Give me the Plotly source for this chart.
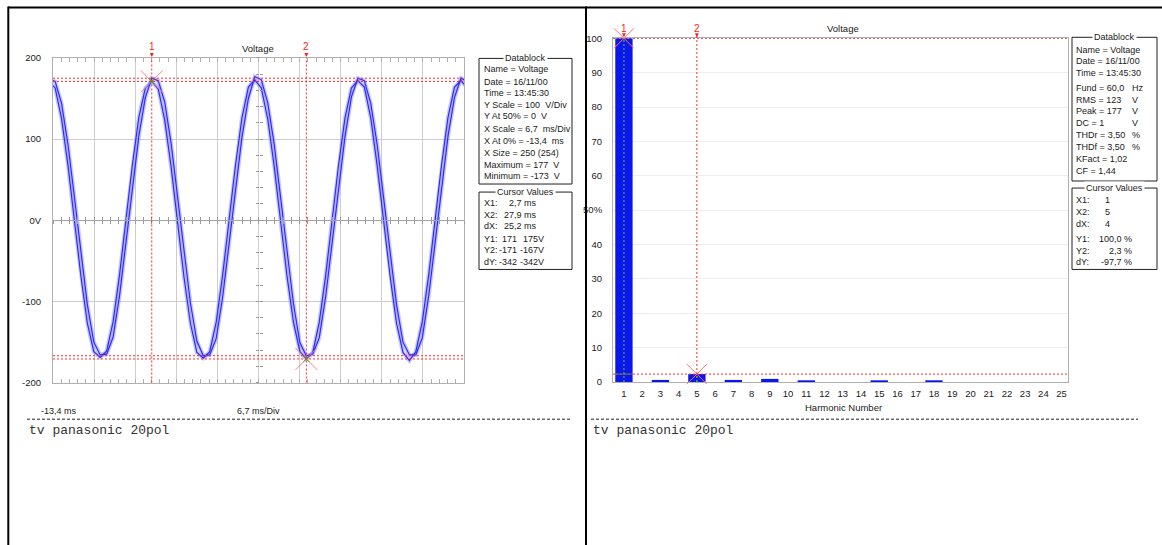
import plotly.graph_objects as go

W, H = 1162, 545

# ---------------- scope record: Voltage (two stored traces) ----------------
T_START = -14.1   # ms, time of first stored sample
T_STEP = 1.05     # ms between stored samples
VOLT_A = [171, 163, 125, 67, -1, -69, -127, -162, -169, -161, -125, -67, 1, 69, 127, 163,
          171, 162, 124, 66, -2, -70, -127, -163, -170, -162, -126, -68, 0, 68, 126, 164,
          173, 163, 125, 67, -1, -69, -126, -162, -171, -163, -126, -68, 0, 68, 126, 163,
          172, 164, 126, 67, -1, -69, -127, -163, -173, -162, -125, -67, 1, 69, 127, 164,
          172, 163]
VOLT_B = [174, 171, 144, 93, 28, -41, -104, -150, -166, -165, -144, -93, -28, 41, 104, 151,
          175, 172, 146, 95, 30, -39, -102, -149, -167, -166, -146, -95, -30, 39, 102, 150,
          177, 173, 145, 94, 29, -40, -103, -151, -167, -165, -145, -94, -29, 40, 103, 152,
          175, 172, 144, 93, 28, -41, -104, -150, -166, -166, -145, -93, -28, 41, 104, 151,
          175, 171]

X_AT_0 = -13.4     # ms at left edge
X_SCALE = 6.7      # ms / div
X_DIVS = 10
Y_TICKS = [-200, -100, 0, 100, 200]
Y_TICK_TEXT = ["-200", "-100", "0V", "100", "200"]

CURSOR_T = [2.7, 27.9]
CURSOR_V_A = [171, -171]
CURSOR_V_B = [175, -167]

# ---------------- harmonic spectrum ----------------
HARMONIC = list(range(1, 26))
HARM_PCT = [100.0, 0.0, 0.6, 0.0, 2.3, 0.0, 0.6, 0.0, 0.9, 0.0, 0.3, 0.0, 0.0,
            0.0, 0.3, 0.0, 0.0, 0.3, 0.0, 0.0, 0.0, 0.0, 0.0, 0.0, 0.0]
PCT_TICKS = [0, 10, 20, 30, 40, 50, 60, 70, 80, 90, 100]
PCT_TICK_TEXT = ["0", "10", "20", "30", "40", "50%", "60", "70", "80", "90", "100"]
CURSOR_H = [1, 5]
CURSOR_PCT = [100.0, 2.3]

# ---------------- text blocks ----------------
SCOPE_DB_LABELS = ["Name", "Date", "Time", "Y Scale", "Y At 50%", "X Scale",
                   "X At 0%", "X Size", "Maximum", "Minimum"]
SCOPE_DB_VALUES = ["Voltage", "16/11/00", "13:45:30", "100", "0", "6,7",
                   "-13,4", "250 (254)", "177", "-173"]
SCOPE_DB_UNITS = ["", "", "", "V/Div", "V", "ms/Div", "ms", "", "V", "V"]
SCOPE_CUR_LABELS = ["X1:", "X2:", "dX:", "Y1:", "Y2:", "dY:"]
SCOPE_CUR_COL1 = ["2,7 ms", "27,9 ms", "25,2 ms", "171", "-171", "-342"]
SCOPE_CUR_COL2 = ["", "", "", "175V", "-167V", "-342V"]

HARM_DB_LABELS = ["Name", "Date", "Time", "Fund", "RMS", "Peak", "DC",
                  "THDr", "THDf", "KFact", "CF"]
HARM_DB_VALUES = ["Voltage", "16/11/00", "13:45:30", "60,0", "123", "177", "1",
                  "3,50", "3,50", "1,02", "1,44"]
HARM_DB_UNITS = ["", "", "", "Hz", "V", "V", "V", "%", "%", "", ""]
HARM_CUR_LABELS = ["X1:", "X2:", "dX:", "Y1:", "Y2:", "dY:"]
HARM_CUR_VALUES = ["1", "5", "4", "100,0 %", "2,3 %", "-97,7 %"]

CAPTION = "tv panasonic 20pol"
SCOPE_TITLE = "Voltage"
HARM_TITLE = "Voltage"
HARM_XTITLE = "Harmonic Number"
SCOPE_XSTART = "-13,4 ms"
SCOPE_XDIV = "6,7 ms/Div"

# ---------------- styling ----------------
UI_FONT = "Liberation Sans, Arial, sans-serif"
MONO_FONT = "Liberation Mono, Courier New, monospace"
TXT = "#1a1a1a"
GRID = "#cdcdcd"
FRAME = "#b0b0b0"
CUR_RED = "#ff2a2a"
DARK_RED = "#b00000"
GREEN = "#10c010"
TRACE_BLUE = "#2d2df5"
HALO_BLUE = "rgba(150,150,255,0.55)"
BAR_BLUE = "#0a16ec"
DOT = "2px,2px"
NB = "\u00a0"

# vertical placement: page rows are laid out on a slightly taller sheet
V_SCALE, V_OFF = 0.975, 6.0


def fx(px):
    return px / W


def fy(py):
    return 1 - (py / V_SCALE - V_OFF) / H


# plot rectangles in page pixels
SC_L, SC_R, SC_T, SC_B = 53, 464, 57.5, 380.5
HM_L, HM_R, HM_T, HM_B = 613, 1068, 38, 380

fig = go.Figure()

# ---- waveform traces ----
t = [T_START + i * T_STEP for i in range(len(VOLT_A))]
for volts in (VOLT_A, VOLT_B):
    fig.add_trace(go.Scatter(x=t, y=volts, mode="lines", xaxis="x", yaxis="y",
                             line=dict(color=HALO_BLUE, width=4), hoverinfo="skip"))
for volts in (VOLT_A, VOLT_B):
    fig.add_trace(go.Scatter(x=t, y=volts, mode="lines", xaxis="x", yaxis="y",
                             line=dict(color=TRACE_BLUE, width=1.2), hoverinfo="skip"))

# cursor crossings on the waveform
fig.add_trace(go.Scatter(x=CURSOR_T, y=CURSOR_V_A, mode="markers", xaxis="x", yaxis="y",
                         marker=dict(symbol="x-thin", size=22,
                                     line=dict(width=1, color="#ff8080")),
                         hoverinfo="skip"))
fig.add_trace(go.Scatter(x=CURSOR_T, y=CURSOR_V_A, mode="markers", xaxis="x", yaxis="y",
                         marker=dict(symbol="x-thin", size=6,
                                     line=dict(width=1, color=GREEN)),
                         hoverinfo="skip"))

# invisible carriers for the centre crosshair axes
for xa, ya in (("x3", "y"), ("x4", "y"), ("x", "y3"), ("x", "y4")):
    fig.add_trace(go.Scatter(x=[None], y=[None], xaxis=xa, yaxis=ya,
                             hoverinfo="skip", showlegend=False))

# ---- harmonic bars ----
fig.add_trace(go.Bar(x=HARMONIC, y=HARM_PCT, xaxis="x2", yaxis="y2", width=0.95,
                     marker=dict(color=BAR_BLUE, line=dict(width=0)), hoverinfo="skip"))
fig.add_trace(go.Scatter(x=CURSOR_H, y=CURSOR_PCT, mode="markers", xaxis="x2", yaxis="y2",
                         marker=dict(symbol="x-thin", size=20,
                                     line=dict(width=1, color="#ff7070")),
                         cliponaxis=False, hoverinfo="skip"))

shapes = []
annotations = []

# ---- page table rules ----
shapes.append(dict(type="line", xref="paper", yref="paper", x0=fx(8), x1=1.0,
                   y0=fy(7.3), y1=fy(7.3), line=dict(color="black", width=2)))
for xr in (8.3, 586):
    shapes.append(dict(type="line", xref="paper", yref="paper", x0=fx(xr), x1=fx(xr),
                       y0=fy(6.3), y1=fy(560), line=dict(color="black", width=2)))

# ---- separators and captions ----
for x0, x1 in ((27, 570), (591, 1138)):
    shapes.append(dict(type="line", xref="paper", yref="paper", x0=fx(x0), x1=fx(x1),
                       y0=fy(417), y1=fy(417),
                       line=dict(color="#202020", width=1, dash="3px,2px")))
    annotations.append(dict(text=CAPTION, xref="paper", yref="paper", x=fx(x0), y=fy(428),
                            xanchor="left", yanchor="middle", showarrow=False,
                            font=dict(family=MONO_FONT, size=13, color="#333333")))

# ---- scope cursors ----
for i, tc in enumerate(CURSOR_T):
    shapes.append(dict(type="line", xref="x", yref="y domain", x0=tc, x1=tc, y0=0, y1=1,
                       line=dict(color=CUR_RED, width=1, dash=DOT), layer="above"))
    annotations.append(dict(text=str(i + 1), xref="x", yref="paper", x=tc, y=fy(SC_T - 1),
                            showarrow=True, arrowhead=2, arrowsize=0.8, arrowwidth=1,
                            arrowcolor="#ff2020", ax=0, ay=-10, standoff=0,
                            font=dict(family=UI_FONT, size=10, color="#ff2020")))
for v in CURSOR_V_A + CURSOR_V_B:
    shapes.append(dict(type="line", xref="x domain", yref="y", x0=0, x1=1, y0=v, y1=v,
                       line=dict(color=CUR_RED, width=1, dash=DOT), layer="above"))

# ---- harmonic cursors ----
shapes.append(dict(type="line", xref="x2 domain", yref="y2", x0=0, x1=1,
                   y0=CURSOR_PCT[0], y1=CURSOR_PCT[0],
                   line=dict(color=DARK_RED, width=1, dash=DOT), layer="above"))
shapes.append(dict(type="line", xref="x2 domain", yref="y2", x0=0, x1=1,
                   y0=CURSOR_PCT[1], y1=CURSOR_PCT[1],
                   line=dict(color=CUR_RED, width=1, dash=DOT), layer="above"))
shapes.append(dict(type="line", xref="x2", yref="y2 domain", x0=CURSOR_H[1], x1=CURSOR_H[1],
                   y0=0, y1=1.01, line=dict(color=CUR_RED, width=1, dash=DOT), layer="above"))
# the cursor lines show green where they cross the blue bars
shapes.append(dict(type="line", xref="x2", yref="y2", x0=CURSOR_H[0], x1=CURSOR_H[0],
                   y0=0, y1=CURSOR_PCT[0], line=dict(color="#30e030", width=1, dash="2px,2px"),
                   layer="above"))
shapes.append(dict(type="line", xref="x2", yref="y2", x0=CURSOR_H[0] - 0.47,
                   x1=CURSOR_H[0] + 0.47, y0=CURSOR_PCT[1], y1=CURSOR_PCT[1],
                   line=dict(color="#30e030", width=1, dash="2px,2px"), layer="above"))
shapes.append(dict(type="line", xref="x2", yref="y2", x0=CURSOR_H[1], x1=CURSOR_H[1],
                   y0=0, y1=CURSOR_PCT[1], line=dict(color="#30e030", width=1, dash="2px,2px"),
                   layer="above"))
for i, h in enumerate(CURSOR_H):
    annotations.append(dict(text=str(i + 1), xref="x2", yref="paper", x=h, y=fy(HM_T - 1),
                            showarrow=True, arrowhead=2, arrowsize=0.8, arrowwidth=1,
                            arrowcolor="#ff2020", ax=0, ay=-9, standoff=0,
                            font=dict(family=UI_FONT, size=10, color="#ff2020")))


# ---- titles and axis notes ----
def label(text, x, y, anchor="center", size=9, color=TXT, family=UI_FONT, bg=None):
    d = dict(text=text, xref="paper", yref="paper", x=fx(x), y=fy(y), xanchor=anchor,
             yanchor="middle", showarrow=False,
             font=dict(family=family, size=size, color=color))
    if bg:
        d.update(bgcolor=bg, borderpad=1)
    annotations.append(d)


label(SCOPE_TITLE, 258, 48, size=9.5)
label(HARM_TITLE, 843, 28, size=9.5)
label(HARM_XTITLE, 843, 405, size=9.5)
label(SCOPE_XSTART, 39, 409, anchor="left")
label(SCOPE_XDIV, 258, 409)


# ---- framed info boxes ----
def box(x0, x1, y0, y1, title):
    shapes.append(dict(type="rect", xref="paper", yref="paper", x0=fx(x0), x1=fx(x1),
                       y0=fy(y1), y1=fy(y0), line=dict(color="#202020", width=1)))
    label(title, (x0 + x1) / 2, y0, bg="white")


# scope datablock
SB_L, SB_R = 479, 572
box(SB_L, SB_R, 58, 183, "Datablock")
for y, lab, val, unit in zip([69, 81, 92, 104, 115, 128, 140, 152, 164, 175],
                             SCOPE_DB_LABELS, SCOPE_DB_VALUES, SCOPE_DB_UNITS):
    text = f"{lab} = {val}" + (NB * 2 + unit if unit else "")
    label(text, SB_L + 3, y, anchor="left")

box(SB_L, SB_R, 191, 268, "Cursor Values")
for y, lab, c1, c2 in zip([202, 214, 225, 238, 249, 261],
                          SCOPE_CUR_LABELS, SCOPE_CUR_COL1, SCOPE_CUR_COL2):
    label(lab, SB_L + 3, y, anchor="left")
    if c2:
        label(c1, SB_L + 40, y, anchor="right")
        label(c2, SB_L + 67, y, anchor="right")
    else:
        label(c1, SB_L + 60, y, anchor="right")

# harmonic datablock
HB_L, HB_R = 1072, 1157
box(HB_L, HB_R, 37, 180, "Datablock")
for y, lab, val, unit in zip([50, 61, 73, 87, 99, 110, 122, 134, 146, 158, 170],
                             HARM_DB_LABELS, HARM_DB_VALUES, HARM_DB_UNITS):
    label(f"{lab} = {val}", HB_L + 2, y, anchor="left")
    if unit:
        label(unit, HB_L + 58, y, anchor="left")

box(HB_L, HB_R, 187, 268, "Cursor Values")
for r, (y, lab, val) in enumerate(zip([199, 211, 223, 238, 250, 261],
                                      HARM_CUR_LABELS, HARM_CUR_VALUES)):
    label(lab, HB_L + 2, y, anchor="left")
    label(val, HB_L + (40 if r < 3 else 62), y, anchor="right")

# ---------------- axes ----------------
x_range = [X_AT_0, X_AT_0 + X_DIVS * X_SCALE]
tickfont = dict(family=UI_FONT, size=9.5, color=TXT)
mid_y = (fy(SC_T) + fy(SC_B)) / 2
mid_x = (fx(SC_L) + fx(SC_R)) / 2

common_center = dict(showticklabels=False, showgrid=False, zeroline=False,
                     tickcolor="#9a9a9a", ticklen=3)

fig.update_layout(
    width=W, height=H, margin=dict(l=0, r=0, t=0, b=0), autosize=False,
    paper_bgcolor="white", plot_bgcolor="white", showlegend=False,
    xaxis=dict(domain=[fx(SC_L), fx(SC_R)], range=x_range, anchor="y",
               tick0=X_AT_0, dtick=X_SCALE, showticklabels=False,
               showgrid=True, gridcolor=GRID, gridwidth=1, zeroline=False,
               showline=True, linecolor=FRAME, mirror="ticks",
               ticks="inside", ticklen=4, tickcolor=FRAME,
               minor=dict(dtick=X_SCALE / 5, tick0=X_AT_0, ticks="inside", ticklen=4,
                          tickcolor=FRAME, showgrid=False)),
    yaxis=dict(domain=[fy(SC_B), fy(SC_T)], range=[-200, 200], anchor="x",
               tickvals=Y_TICKS, ticktext=Y_TICK_TEXT, tickfont=tickfont,
               showgrid=True, gridcolor=GRID, zeroline=False,
               showline=True, linecolor=FRAME, mirror=True,
               ticks="", ticklabelstandoff=9),
    xaxis3=dict(overlaying="x", anchor="free", position=mid_y, range=x_range,
                tick0=X_AT_0, dtick=X_SCALE, ticks="inside", showline=True,
                linecolor="#a4a4a4",
                minor=dict(dtick=X_SCALE / 5, tick0=X_AT_0, ticks="inside", ticklen=3,
                           tickcolor="#9a9a9a"), **common_center),
    xaxis4=dict(overlaying="x", anchor="free", position=mid_y, range=x_range,
                tick0=X_AT_0, dtick=X_SCALE, ticks="outside", showline=False,
                minor=dict(dtick=X_SCALE / 5, tick0=X_AT_0, ticks="outside", ticklen=3,
                           tickcolor="#9a9a9a"), **common_center),
    yaxis3=dict(overlaying="y", anchor="free", position=mid_x, range=[-200, 200],
                dtick=100, ticks="inside", showline=False,
                minor=dict(dtick=20, ticks="inside", ticklen=3, tickcolor="#9a9a9a"),
                **common_center),
    yaxis4=dict(overlaying="y", anchor="free", position=mid_x, range=[-200, 200],
                dtick=100, ticks="outside", showline=False,
                minor=dict(dtick=20, ticks="outside", ticklen=3, tickcolor="#9a9a9a"),
                **common_center),
    xaxis2=dict(domain=[fx(HM_L), fx(HM_R)], range=[0.4, 25.35], anchor="y2",
                tickvals=HARMONIC, tickfont=tickfont, ticks="",
                showgrid=False, zeroline=False, showline=True, linecolor=FRAME,
                mirror=True, ticklabelstandoff=3),
    yaxis2=dict(domain=[fy(HM_B), fy(HM_T)], range=[0, 100], anchor="x2",
                tickvals=PCT_TICKS, ticktext=PCT_TICK_TEXT, tickfont=tickfont, ticks="",
                showgrid=True, gridcolor="#eeeeee", zeroline=False,
                showline=True, linecolor=FRAME, mirror=True, ticklabelstandoff=8),
    bargap=0.05,
    shapes=shapes,
    annotations=annotations,
)

fig.write_html("out.html", config={"displayModeBar": False})
